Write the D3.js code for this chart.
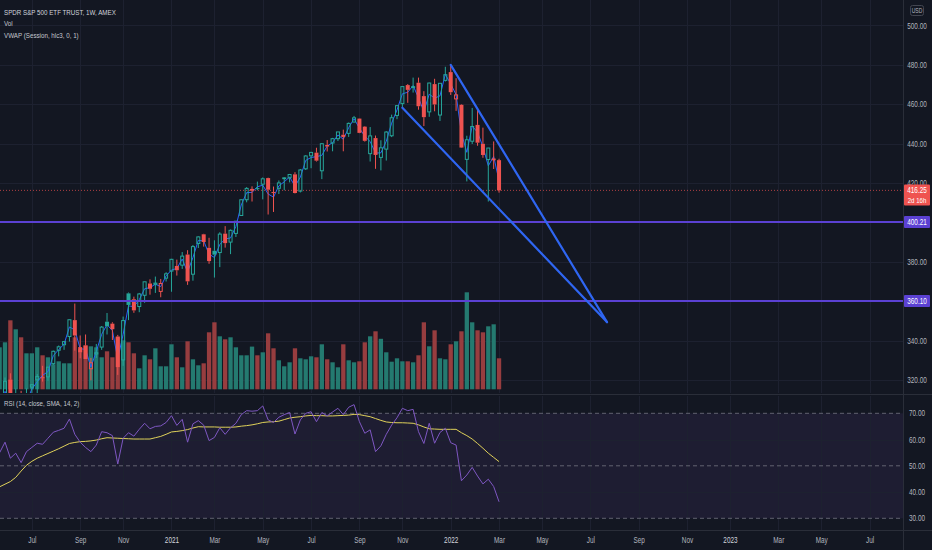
<!DOCTYPE html>
<html><head><meta charset="utf-8">
<script src="https://cdn.jsdelivr.net/npm/d3@7"></script>
<style>html,body{margin:0;padding:0;background:#131722;overflow:hidden}svg{display:block}</style>
</head><body>
<svg id="c" width="932" height="550"></svg>
<script>
// ---- DATA (weekly bars, bar 0 = week of 2020-05-25) ----
const open = [301.9,303.6,320.2,298.0,307.99,301.4,316.4,320.1,321.4,321.6,328.3,335.1,337.9,342.1,350.4,336.7,337.5,325.7,333.2,336.7,349.6,348.6,342.1,330.2,363.97,360.98,357.3,363.0,369.0,368.6,364.97,371.7,375.3,377.9,378.3,383.7,373.7,389.3,393.96,387.1,385.6,384.7,394.3,390.0,394.4,403.5,411.5,416.3,417.4,419.4,422.5,415.4,417.3,422.57,422.6,424.4,415.9,427.2,433.8,435.4,426.2,439.3,440.3,442.5,444.5,445.2,450.97,452.7,448.6,434.9,442.8,433.0,437.2,443.97,454.3,460.3,469.7,468.6,470.9,464.1,456.1,470.2,454.5,472.1,476.3,462.7,459.7,432.0,441.2,449.5,439.9,431.9,432.0,431.6];
const high = [306.8,321.3,323.4,315.6,314.5,315.7,317.9,323.0,327.2,326.6,334.9,337.5,339.7,350.7,358.8,342.6,343.1,331.2,338.3,347.4,354.0,349.3,342.9,352.2,364.4,362.3,364.2,369.9,371.1,372.5,371.3,374.7,381.5,381.1,384.95,385.9,388.5,392.9,394.2,392.2,390.9,395.0,398.1,396.4,400.7,411.7,417.9,418.3,420.7,422.8,422.7,418.2,421.3,422.9,424.6,425.5,427.1,434.1,435.8,437.9,440.3,441.8,442.9,445.9,447.1,450.7,454.05,452.8,448.9,448.4,444.1,441.7,446.3,454.7,459.6,469.0,470.2,473.5,473.5,466.6,470.9,472.9,470.6,479.0,479.98,473.2,459.96,444.0,458.1,457.9,448.1,437.8,441.1,432.3];
const low = [298.9,302.1,299.0,296.7,299.4,298.9,310.7,312.6,319.2,319.6,327.7,332.0,335.3,339.5,334.9,331.0,332.9,319.8,331.2,335.3,343.1,340.3,322.6,327.2,350.4,354.1,354.4,359.2,363.3,364.2,362.0,370.0,364.8,373.0,376.4,368.3,370.4,387.0,387.7,379.0,372.0,377.3,387.2,383.9,392.6,403.4,410.2,410.6,416.3,411.7,404.0,405.3,414.4,416.3,420.3,414.7,415.2,426.6,427.5,430.9,421.97,435.99,436.1,441.3,436.1,443.4,450.7,445.3,441.0,430.9,427.2,426.4,431.4,443.3,452.4,457.9,460.7,465.9,457.2,448.9,453.6,456.4,451.5,471.5,464.7,456.6,437.8,420.8,439.8,438.9,432.8,410.6,427.1,415.1];
const close = [304.3,319.34,304.21,308.64,300.05,312.23,317.59,321.72,320.88,326.52,334.57,336.84,339.48,350.58,342.57,334.06,330.65,328.73,333.84,346.85,347.29,345.78,326.54,350.16,358.1,355.33,363.67,369.85,366.3,369.18,369.0,373.88,381.26,375.7,382.88,370.07,387.71,392.64,390.03,380.36,383.63,394.06,389.48,395.98,400.61,411.49,417.26,416.74,417.3,422.12,416.58,414.94,420.04,422.6,424.31,414.92,426.61,433.72,435.52,431.34,439.94,438.51,442.49,445.92,443.36,450.25,453.08,445.44,441.4,443.91,434.24,437.86,445.87,453.12,459.25,468.93,467.27,468.89,458.97,453.42,470.74,459.87,470.6,474.96,466.09,464.72,437.98,441.95,448.7,440.46,434.23,437.75,432.17,416.25];
const volume = [420,470,690,600,520,360,360,420,340,320,250,280,260,260,520,400,440,430,420,320,380,320,520,490,470,360,210,340,300,410,230,230,450,320,220,480,300,240,260,570,670,530,500,520,420,340,340,427,340,370,560,410,290,230,270,410,310,300,330,320,450,300,270,220,450,290,270,280,470,530,580,505,370,276,310,280,280,270,340,670,430,590,310,300,450,480,580,970,670,590,570,630,650,310];
const rsi = [55,59,52.9,54.8,51.2,55.4,57,58.6,58.2,60.5,62.8,63.5,64.3,67.8,62,59,57,55.4,57.9,63,62.6,61.5,50.7,60.5,62.6,61.3,63.9,66.2,64.1,65,65.2,66.5,69.1,65.4,67.7,59,66,67.2,65.5,59.6,60.8,64.5,62,64.5,66.2,69.5,71,70.8,71,72.8,67.5,66.5,68.5,69.5,70.3,62.1,67.5,70,70.6,66.8,70.3,69,70.5,71.9,69.5,72.3,73.3,66.8,62.4,63.7,55.4,57.6,62,65.5,68.3,71.9,71,71.5,63,58.5,66.2,58.6,62.7,64.3,58.8,57.9,44.3,46.5,49.4,46.1,43.1,44.9,42.1,36.3];
const rsiMA = [42,43.0,44.0,45.6,48.0,50.2,51.7,52.9,53.8,54.7,55.6,56.5,57.5,58.5,58.9,59.2,59.3,59.5,59.8,60.3,60.7,60.6,60.5,60.4,60.3,60.2,60.2,60.2,60.2,60.7,61.2,62.0,62.9,63.1,63.4,63.8,64.4,64.9,64.8,64.8,64.8,64.7,64.7,64.7,64.8,65.1,65.3,65.6,66.0,66.5,66.7,66.8,67.0,67.6,68.2,68.5,68.7,69.0,69.2,69.1,69.1,69.0,69.0,69.1,69.2,69.3,69.6,69.5,69.1,68.7,68.0,67.3,66.7,66.5,66.4,66.4,66.3,66.2,65.6,64.8,64.1,64.0,63.9,63.9,63.9,63.9,62.6,61.5,60.2,58.5,56.7,54.8,53.2,51.6];
const tickLabels = ["Jul","Sep","Nov","2021","Mar","May","Jul","Sep","Nov","2022","Mar","May","Jul","Sep","Nov","2023","Mar","May","Jul"];
const tickBars = [6,15,23,32,40,49,58,67,75,84,93,101,110,119,128,136,145,153,162];
const priceTicks = [320,340,360,380,400,420,440,460,480,500];
const rsiTicks = [30,40,50,60,70];
const hLines = [400.21, 360.10];
const lastPrice = 416.25, countdown = "2d 16h";
const wedgeUpper = [[84,479.98],[113.1,349.4]];
const wedgeLower = [[75,458.2],[113.1,349.4]];
const titleLines = ["SPDR S&P 500 ETF TRUST, 1W, AMEX","Vol","VWAP (Session, hlc3, 0, 1)"];
const rsiTitle = "RSI (14, close, SMA, 14, 2)";

// ---- LAYOUT ----
const W=932, H=550, PR=903, PB=393, RT=396, RB=530;
const FONT = "'Liberation Sans', Arial, sans-serif";
const SX = 0.78;
const svg = d3.select('#c');
const x = d3.scaleLinear().domain([0,93]).range([-0.37,499.04]);
const y = d3.scaleLinear().domain([320,500]).range([380,25.4]);
const yVol = d3.scaleLinear().domain([0,970]).range([389.3,292.3]);
const yR = d3.scaleLinear().domain([30,70]).range([518.3,413.3]);
const GREEN='#26a69a', RED='#ef5350', PURPLE='#5b41d3', BLUE='#2f66f2';

svg.append('rect').attr('width',W).attr('height',H).attr('fill','#131722');
const defs = svg.append('defs');
defs.append('clipPath').attr('id','cp').append('rect').attr('x',0).attr('y',0).attr('width',PR).attr('height',PB);
defs.append('clipPath').attr('id','cr').append('rect').attr('x',0).attr('y',RT).attr('width',PR).attr('height',RB-RT);

function txt(g,px,py,str,o={}){
  const t=g.append('text').attr('transform',`translate(${px},${py}) scale(${o.sx||SX},1)`)
    .attr('text-anchor',o.anchor||'start').attr('font-size',o.size||8.2)
    .attr('fill',o.fill||'#b2b5be').attr('font-family',FONT).text(str);
  if(o.weight) t.attr('font-weight',o.weight);
  return t;
}

// RSI band
svg.append('rect').attr('x',0).attr('width',PR).attr('y',yR(70)).attr('height',yR(30)-yR(70)).attr('fill','rgba(126,87,194,0.10)');

// grids
const grid = svg.append('g').attr('stroke','#1d2130').attr('stroke-width',1);
tickBars.forEach(b=>{ const gx=Math.round(x(b))+0.5; if(gx<PR){
  grid.append('line').attr('x1',gx).attr('x2',gx).attr('y1',0).attr('y2',PB);
  grid.append('line').attr('x1',gx).attr('x2',gx).attr('y1',RT).attr('y2',RB);}});
priceTicks.forEach(p=>{ const gy=Math.round(y(p))+0.5;
  grid.append('line').attr('x1',0).attr('x2',PR).attr('y1',gy).attr('y2',gy);});
[40,60].forEach(v=>{ const gy=Math.round(yR(v))+0.5;
  grid.append('line').attr('x1',0).attr('x2',PR).attr('y1',gy).attr('y2',gy);});

// price pane
const pane = svg.append('g').attr('clip-path','url(#cp)');
const bars = open.map((o,i)=>({i,o,h:high[i],l:low[i],c:close[i],v:volume[i]}));
bars.forEach((d,i)=>{ const pc=i>0?close[i-1]:d.o; d.up=d.c>=pc; d.hollow=d.c>=d.o; });

// volume
pane.append('g').selectAll('rect').data(bars).join('rect')
  .attr('x',d=>x(d.i)-2.15).attr('width',4.3)
  .attr('y',d=>yVol(d.v)).attr('height',d=>yVol(0)-yVol(d.v))
  .attr('fill',d=>d.c>=d.o?'#247a70':'#973d3f');

// last price line
pane.append('line').attr('x1',0).attr('x2',PR).attr('y1',y(lastPrice)).attr('y2',y(lastPrice))
  .attr('stroke',RED).attr('stroke-opacity',0.7).attr('stroke-width',1).attr('stroke-dasharray','1,2');

// VWAP (hlc3 per weekly session)
pane.append('path').datum(bars)
  .attr('d',d3.line().x(d=>x(d.i)).y(d=>y((d.h+d.l+d.c)/3)))
  .attr('fill','none').attr('stroke','#2962ff').attr('stroke-width',1);

// candles
const cg = pane.append('g');
bars.forEach(d=>{
  const cx=x(d.i), col=d.up?GREEN:RED;
  const top=y(Math.max(d.o,d.c)), bot=y(Math.min(d.o,d.c));
  cg.append('line').attr('x1',cx).attr('x2',cx).attr('y1',y(d.h)).attr('y2',top).attr('stroke',col).attr('stroke-width',1);
  cg.append('line').attr('x1',cx).attr('x2',cx).attr('y1',bot).attr('y2',y(d.l)).attr('stroke',col).attr('stroke-width',1);
  if(d.hollow){
    cg.append('rect').attr('x',cx-1.5).attr('width',3).attr('y',top).attr('height',Math.max(bot-top,0.8))
      .attr('fill','none').attr('stroke',col).attr('stroke-width',1);
  } else {
    cg.append('rect').attr('x',cx-2).attr('width',4).attr('y',top).attr('height',Math.max(bot-top,1)).attr('fill',col);
  }
});

// drawings
hLines.forEach(v=>pane.append('line').attr('x1',0).attr('x2',PR).attr('y1',y(v)).attr('y2',y(v))
  .attr('stroke',PURPLE).attr('stroke-width',2));
[wedgeUpper,wedgeLower].forEach(w=>pane.append('path').datum(w)
  .attr('d',d3.line().x(p=>x(p[0])).y(p=>y(p[1])))
  .attr('fill','none').attr('stroke',BLUE).attr('stroke-width',2.2).attr('stroke-linecap','round'));

// RSI pane
const rp = svg.append('g').attr('clip-path','url(#cr)');
[70,50,30].forEach(v=>rp.append('line').attr('x1',0).attr('x2',PR).attr('y1',yR(v)).attr('y2',yR(v))
  .attr('stroke','#787b86').attr('stroke-opacity',0.75).attr('stroke-width',1).attr('stroke-dasharray','4,3'));
rp.append('path').datum(rsiMA).attr('d',d3.line().x((d,i)=>x(i)).y(d=>yR(d)))
  .attr('fill','none').attr('stroke','#e0d25a').attr('stroke-width',1);
rp.append('path').datum(rsi).attr('d',d3.line().x((d,i)=>x(i)).y(d=>yR(d)))
  .attr('fill','none').attr('stroke','#7e57c2').attr('stroke-width',1);

// borders
const bd = svg.append('g').attr('stroke','#2a2e39').attr('stroke-width',1);
bd.append('line').attr('x1',PR+0.5).attr('x2',PR+0.5).attr('y1',0).attr('y2',H);
bd.append('line').attr('x1',0).attr('x2',W).attr('y1',RB+0.5).attr('y2',RB+0.5);
bd.append('line').attr('x1',0).attr('x2',W).attr('y1',PB+1.5).attr('y2',PB+1.5);

// axes
function styleAxis(g){
  g.select('.domain').remove(); g.selectAll('.tick line').remove();
  g.selectAll('.tick text').attr('x',0).attr('y',0).attr('dy','0.32em').attr('text-anchor','middle')
    .attr('transform',`scale(${SX},1)`).attr('font-family',FONT).attr('font-size',8.2).attr('fill','#b2b5be');
}
const fmt = d3.format('.2f');
const ya = svg.append('g').attr('transform','translate(917,0)')
  .call(d3.axisRight(y).tickValues(priceTicks).tickFormat(fmt)).call(styleAxis);
// keep the label just above the last-price badge (only its top shows, as in the reference)
svg.append('g').attr('transform','translate(917,0)')
  .call(d3.axisRight(yR).tickValues(rsiTicks).tickFormat(fmt)).call(styleAxis);
const xa = svg.append('g').attr('transform','translate(0,540.5)')
  .call(d3.axisBottom(x).tickValues(tickBars).tickFormat((d,i)=>tickLabels[i])).call(styleAxis);
xa.selectAll('.tick text').filter((d,i)=>/^\d{4}$/.test(tickLabels[i])).attr('fill','#d1d4dc');

// USD badge
svg.append('rect').attr('x',910.5).attr('y',5.5).attr('width',13).attr('height',10).attr('rx',2)
  .attr('fill','none').attr('stroke','#434651');
txt(svg,917,13,'USD',{anchor:'middle',size:6.5});

// price labels on axis
hLines.forEach(v=>{
  svg.append('rect').attr('x',PR+1).attr('y',y(v)-6).attr('width',W-PR-3).attr('height',12).attr('rx',1).attr('fill',PURPLE);
  txt(svg,917,y(v)+3,fmt(v),{anchor:'middle',fill:'#ffffff'});
});
svg.append('rect').attr('x',PR+1).attr('y',y(lastPrice)-6).attr('width',W-PR-3).attr('height',21).attr('rx',1).attr('fill',RED);
txt(svg,917,y(lastPrice)+3,fmt(lastPrice),{anchor:'middle',fill:'#ffffff'});
txt(svg,917,y(lastPrice)+12.5,countdown,{anchor:'middle',fill:'#ffffff',size:7.8});

// legends
txt(svg,4,14.5,titleLines[0],{fill:'#d1d4dc',size:7.6,sx:0.82});
txt(svg,4,26,titleLines[1],{fill:'#c4c7cf',size:7.6,sx:0.82});
txt(svg,4,37.8,titleLines[2],{fill:'#c4c7cf',size:7.6,sx:0.82});
txt(svg,4,405.5,rsiTitle,{fill:'#c4c7cf',size:7.6,sx:0.82});
</script>
</body></html>
